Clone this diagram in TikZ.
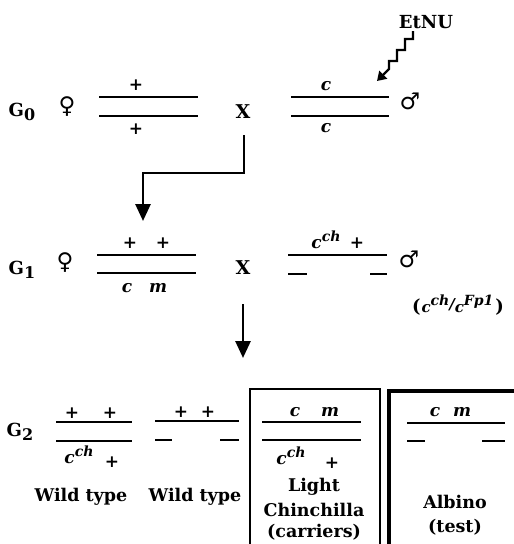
\documentclass[tikz,border=0pt]{standalone}
\usepackage{fontspec}
\setmainfont{DejaVu Serif}
\newfontfamily\symf{DejaVu Sans}
\usetikzlibrary{arrows.meta}
\newcommand\supch[1]{\raisebox{0.42em}{\fontsize{14}{14}\selectfont #1}}
\newcommand\Gsub[1]{G\raisebox{-0.25em}{\fontsize{16}{16}\selectfont #1}}
\begin{document}
\begin{tikzpicture}[x=1pt,y=-1pt,
  lbl/.style={inner sep=0pt, font=\bfseries\fontsize{17.5}{22}\selectfont, align=center},
  gl/.style={inner sep=0pt, font=\bfseries\fontsize{18}{22}\selectfont},
  gen/.style={inner sep=0pt, font=\bfseries\itshape\fontsize{17}{20}\selectfont},
  pl/.style={inner sep=0pt, font=\bfseries\fontsize{17}{17}\selectfont},
  sx/.style={inner sep=0pt, font=\symf\bfseries\fontsize{23}{23}\selectfont},
  xx/.style={inner sep=0pt, font=\bfseries\fontsize{19}{19}\selectfont},
  chrom/.style={line width=2.9pt},
  conn/.style={line width=2.8pt, -{Triangle[width=15pt,length=17pt]}},
  zz/.style={line width=2.4pt, -{Triangle[width=11pt,length=9pt]}}]
\useasboundingbox (0,0) rectangle (514,544);
\clip (0,0) rectangle (514,544);

% ---------- G0 ----------
\node[gl] (g0) at (22,112) {\Gsub{0}};
\node[sx] (f0) at (67,107) {♀};
\draw[chrom] (99,97) -- (198,97);
\draw[chrom] (99,116) -- (198,116);
\node[pl] (p0a) at (136,85) {+};
\node[pl] (p0b) at (136,129) {+};
\node[xx] (x0) at (243,112) {X};
\draw[chrom] (291,97) -- (389,97);
\draw[chrom] (291,116) -- (389,116);
\node[gen] (c0a) at (326,86) {c};
\node[gen] (c0b) at (326,128) {c};
\node[sx] (m0) at (410,101) {♂};
\node[gl] (etnu) at (426,22) {EtNU};

\coordinate (z0) at (413,31);
\coordinate (z1) at (377,81);
\draw[zz] (z0) -- (413,39) -- (405,39) -- (405,50) -- (397,50) -- (397,61) -- (389,61) -- (389,69) -- (z1);

\coordinate (e0) at (244,135);
\coordinate (e1) at (143,221);
\draw[conn] (e0) -- ++(0,38) -| (e1);

% ---------- G1 ----------
\node[gl] (g1) at (22,270) {\Gsub{1}};
\node[sx] (f1) at (65,263) {♀};
\draw[chrom] (97,255) -- (196,255);
\draw[chrom] (97,273) -- (196,273);
\node[pl] (p1a) at (130,243) {+};
\node[pl] (p1b) at (163,243) {+};
\node[gen] (c1) at (127,288) {c};
\node[gen] (m1) at (158,288) {m};
\node[xx] (x1) at (243,268) {X};
\draw[chrom] (288,255) -- (387,255);
\draw[chrom] (288,274) -- (307,274);
\draw[chrom] (370,274) -- (387,274);
\node[gen] (cch1) at (326,240) {c\supch{ch}};
\node[pl] (p1c) at (357,243) {+};
\node[sx] (m1s) at (409,259) {♂};
\node[gen, font=\bfseries\itshape\fontsize{15}{15}\selectfont] (fp) at (458,305)
  {{\upshape\fontsize{18}{18}\selectfont(}\kern1pt c\supch{ch}\raisebox{0.15em}{/}c\supch{Fp1}\kern2pt{\upshape\fontsize{18}{18}\selectfont)}};

\coordinate (a0) at (243,304);
\coordinate (a1) at (243,358);
\draw[conn] (a0) -- (a1);

% ---------- G2 ----------
\node[gl] (g2) at (20,432) {\Gsub{2}};
% genotype 1
\draw[chrom] (56,422) -- (132,422);
\draw[chrom] (56,441) -- (132,441);
\node[pl] (p2a) at (72,413) {+};
\node[pl] (p2b) at (110,413) {+};
\node[gen] (cch2) at (79,455) {c\supch{ch}};
\node[pl] (p2c) at (112,462) {+};
\node[lbl] (wt1) at (81,497) {Wild type};
% genotype 2
\draw[chrom] (155,421) -- (239,421);
\draw[chrom] (155,440) -- (172,440);
\draw[chrom] (220,440) -- (239,440);
\node[pl] (p2d) at (181,412) {+};
\node[pl] (p2e) at (208,412) {+};
\node[lbl] (wt2) at (195,497) {Wild type};
% box 1
\draw[line width=1.8pt] (250,389) rectangle (380,570);
\node[gen] (c3) at (295,412) {c};
\node[gen] (m3) at (330,412) {m};
\draw[chrom] (262,422) -- (361,422);
\draw[chrom] (262,440) -- (361,440);
\node[gen] (cch3) at (291,456) {c\supch{ch}};
\node[pl] (p3) at (332,463) {+};
\node[lbl] (lc1) at (314,487) {Light};
\node[lbl] (lc2) at (314,510) {Chinchilla};
\node[lbl] (lc3) at (314,532) {(carriers)};
% box 2
\draw[line width=4.5pt] (389,391) rectangle (540,570);
\node[gen] (c4) at (435,412) {c};
\node[gen] (m4) at (462,412) {m};
\draw[chrom] (407,423) -- (505,423);
\draw[chrom] (407,441) -- (425,441);
\draw[chrom] (482,441) -- (505,441);
\node[lbl] (al1) at (455,502) {Albino};
\node[lbl] (al2) at (455,527) {(test)};
\end{tikzpicture}
\end{document}
